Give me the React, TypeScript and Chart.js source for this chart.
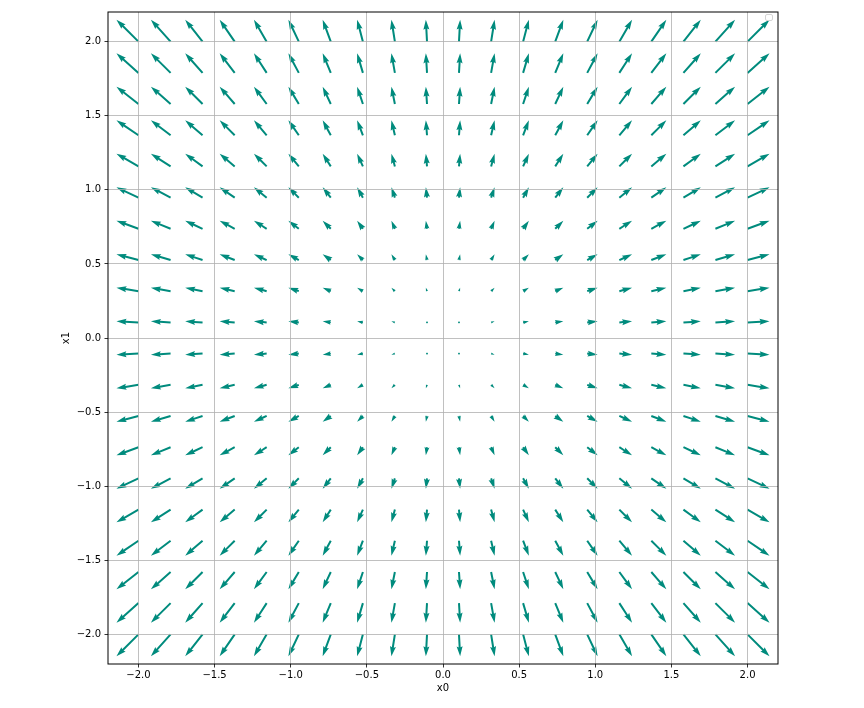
import React, { useEffect, useRef } from 'react';
import { Chart, registerables } from 'chart.js';

Chart.register(...registerables);

// Grid of sample points (x0 across, x1 up)
const x0Grid = [-2.0, -1.789, -1.579, -1.368, -1.158, -0.947, -0.737, -0.526, -0.316, -0.105, 0.105, 0.316, 0.526, 0.737, 0.947, 1.158, 1.368, 1.579, 1.789, 2.0];
const x1Grid = [-2.0, -1.789, -1.579, -1.368, -1.158, -0.947, -0.737, -0.526, -0.316, -0.105, 0.105, 0.316, 0.526, 0.737, 0.947, 1.158, 1.368, 1.579, 1.789, 2.0];
// Horizontal vector component per column, vertical component per row
const uByColumn = [-2.0, -1.789, -1.579, -1.368, -1.158, -0.947, -0.737, -0.526, -0.316, -0.105, 0.105, 0.316, 0.526, 0.737, 0.947, 1.158, 1.368, 1.579, 1.789, 2.0];
const vByRow = [-2.0, -1.789, -1.579, -1.368, -1.158, -0.947, -0.737, -0.526, -0.316, -0.105, 0.105, 0.316, 0.526, 0.737, 0.947, 1.158, 1.368, 1.579, 1.789, 2.0];

const xTickValues = [-2.0, -1.5, -1.0, -0.5, 0.0, 0.5, 1.0, 1.5, 2.0];
const yTickValues = [-2.0, -1.5, -1.0, -0.5, 0.0, 0.5, 1.0, 1.5, 2.0];
const xAxisLabel = 'x0';
const yAxisLabel = 'x1';

const ARROW_COLOR = '#008b7d';
const PX_PER_UNIT = 11.0;
const SHAFT_W = 2.0;
const FONT = 'DejaVu Sans';

function fmtTick(v: number | string): string {
  const n = Number(v);
  const s = (Math.abs(n) < 1e-9 ? 0 : n).toFixed(1);
  return s.replace('-', '\u2212');
}

function drawArrow(ctx: CanvasRenderingContext2D, x: number, y: number, dx: number, dy: number) {
  const w = SHAFT_W;
  const L = Math.hypot(dx, dy);
  ctx.save();
  ctx.translate(x, y);
  ctx.beginPath();
  if (L < w) {
    for (let k = 0; k < 6; k++) {
      const th = (k * Math.PI) / 3;
      const px = Math.cos(th) * w * 0.5;
      const py = Math.sin(th) * w * 0.5;
      if (k === 0) ctx.moveTo(px, py);
      else ctx.lineTo(px, py);
    }
  } else {
    ctx.rotate(Math.atan2(dy, dx));
    const HL = 5 * w;
    const HAL = 4.5 * w;
    const HW = 1.5 * w;
    const hs = 0.5 * w;
    let pts: number[][];
    if (L >= HL) {
      pts = [[0, -hs], [L - HAL, -hs], [L - HL, -HW], [L, 0], [L - HL, HW], [L - HAL, hs], [0, hs]];
    } else {
      const s = L / HL;
      pts = [[0, -hs], [HL - HAL, -hs], [0, -HW], [HL, 0], [0, HW], [HL - HAL, hs], [0, hs]].map((p) => [p[0] * s, p[1] * s]);
    }
    pts.forEach((p, k) => (k === 0 ? ctx.moveTo(p[0], p[1]) : ctx.lineTo(p[0], p[1])));
  }
  ctx.closePath();
  ctx.fillStyle = ARROW_COLOR;
  ctx.fill();
  ctx.restore();
}

const quiverPlugin = {
  id: 'quiver',
  beforeDraw(chart: any) {
    const ctx = chart.ctx as CanvasRenderingContext2D;
    const area = chart.chartArea;
    const meta = chart.getDatasetMeta(0);
    const data = chart.data.datasets[0].data as any[];
    ctx.save();
    ctx.beginPath();
    ctx.rect(area.left, area.top, area.right - area.left, area.bottom - area.top);
    ctx.clip();
    meta.data.forEach((el: any, i: number) => {
      const d = data[i];
      drawArrow(ctx, el.x, el.y, d.u * PX_PER_UNIT, -d.v * PX_PER_UNIT);
    });
    ctx.restore();
  },
  afterDraw(chart: any) {
    const ctx = chart.ctx as CanvasRenderingContext2D;
    const a = chart.chartArea;
    ctx.save();
    ctx.strokeStyle = '#000';
    ctx.lineWidth = 1;
    ctx.strokeRect(a.left, a.top, a.right - a.left, a.bottom - a.top);
    // empty legend frame, top-right
    ctx.strokeStyle = '#d4d4d4';
    ctx.fillStyle = 'rgba(255,255,255,0.8)';
    ctx.lineWidth = 1;
    const bx = a.right - 12.5;
    const by = a.top + 2.5;
    ctx.beginPath();
    (ctx as any).roundRect(bx, by, 7, 6, 1.5);
    ctx.fill();
    ctx.stroke();
    ctx.restore();
  },
};

export default function App() {
  const canvasRef = useRef<HTMLCanvasElement | null>(null);

  useEffect(() => {
    if (!canvasRef.current) return;
    const points: any[] = [];
    x0Grid.forEach((xv, i) => {
      x1Grid.forEach((yv, j) => {
        points.push({ x: xv, y: yv, u: uByColumn[i], v: vByRow[j] });
      });
    });

    const tickFont = { family: FONT, size: 10 };
    const chart = new Chart(canvasRef.current, {
      type: 'scatter',
      data: {
        datasets: [
          {
            label: 'field',
            data: points,
            pointRadius: 0,
            pointHoverRadius: 0,
            showLine: false,
          },
        ],
      },
      options: {
        animation: false,
        responsive: false,
        devicePixelRatio: 1,
        events: [],
        layout: { padding: { left: 0, top: 12, right: 86, bottom: 0 } },
        plugins: {
          legend: { display: false },
          tooltip: { enabled: false },
        },
        scales: {
          x: {
            type: 'linear',
            min: -2.2,
            max: 2.2,
            afterBuildTicks: (s: any) => {
              s.ticks = xTickValues.map((v) => ({ value: v }));
            },
            afterFit: (s: any) => {
              s.height = 44;
            },
            ticks: {
              callback: (v: any) => fmtTick(v),
              font: tickFont,
              color: '#000',
              padding: 2,
              maxRotation: 0,
              autoSkip: false,
            },
            grid: { color: '#b0b0b0', lineWidth: 0.8, tickLength: 3.5, tickColor: '#000', tickWidth: 0.8 },
            border: { display: false },
            title: { display: true, text: xAxisLabel, font: tickFont, color: '#000', padding: { top: 0, bottom: 13.5 } },
          },
          y: {
            type: 'linear',
            min: -2.2,
            max: 2.2,
            afterBuildTicks: (s: any) => {
              s.ticks = yTickValues.map((v) => ({ value: v }));
            },
            afterFit: (s: any) => {
              s.width = 108;
            },
            ticks: {
              callback: (v: any) => fmtTick(v),
              font: tickFont,
              color: '#000',
              padding: 3.5,
              autoSkip: false,
            },
            grid: { color: '#b0b0b0', lineWidth: 0.8, tickLength: 3.5, tickColor: '#000', tickWidth: 0.8 },
            border: { display: false },
            title: { display: true, text: yAxisLabel, font: tickFont, color: '#000', padding: { top: 60, bottom: 0 } },
          },
        },
      },
      plugins: [quiverPlugin],
    } as any);
    return () => chart.destroy();
  }, []);

  return (
    <div style={{ position: 'absolute', left: 0, top: 0, width: 864, height: 708, background: '#fff' }}>
      <canvas ref={canvasRef} width={864} height={708} style={{ width: 864, height: 708, display: 'block' }} />
    </div>
  );
}
